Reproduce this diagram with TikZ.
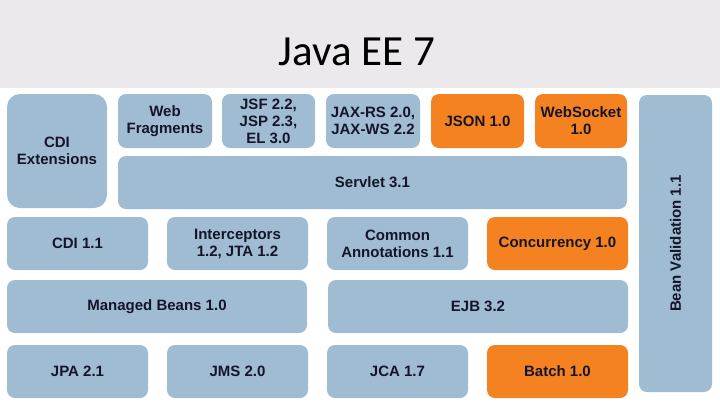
\documentclass[tikz,border=0pt]{standalone}
\usepackage{fontspec}
\setmainfont{Liberation Sans}
\newfontfamily\titlefont{Carlito}
\usepackage{xcolor}
\usetikzlibrary{positioning}
\definecolor{specblue}{HTML}{A0BCD3}
\definecolor{neworange}{HTML}{F58220}
\definecolor{bandgray}{HTML}{EBE9EC}
\definecolor{labelink}{HTML}{15152A}

\begin{document}
\begin{tikzpicture}[x=1pt, y=-1pt,
  blk/.style={fill=specblue, rounded corners=8pt, inner sep=0pt, align=center,
    text=labelink, font=\fontsize{15}{17}\selectfont\bfseries},
  newblk/.style={blk, fill=neworange},
  rowblk/.style={minimum height=53pt}]
\useasboundingbox (0,0) rectangle (720,405);
% title band
\fill[bandgray] (0,0) rectangle (720,88);
\node[font=\titlefont\fontsize{43}{43}\selectfont, anchor=base, text=black] (title) at (357,65) {Java EE 7};
% top row: web tier
\node[blk, rounded corners=13pt, minimum width=100pt, minimum height=114pt] (cdiext) at (57,151) {CDI\\Extensions};
\node[blk, minimum width=94pt, minimum height=54pt] (webfrag) at (165,121) {Web\\Fragments};
\node[blk, minimum width=93pt, minimum height=54pt] (jsf) at (268.5,121) {JSF 2.2,\\JSP 2.3,\\EL 3.0};
\node[blk, minimum width=94pt, minimum height=54pt] (jaxrs) at (373,121) {JAX-RS 2.0,\\JAX-WS 2.2};
\node[newblk, minimum width=93pt, minimum height=54pt] (json) at (477.5,121) {JSON 1.0};
\node[newblk, minimum width=92pt, minimum height=54pt] (websocket) at (581,121) {WebSocket\\1.0};
\node[blk, rowblk, minimum width=509pt] (servlet) at (372.5,182.5) {Servlet 3.1};
% side bar
\node[blk, rotate=90, minimum width=297pt, minimum height=73pt] (beanval) at (675.5,243.5) {Bean Validation 1.1};
% middle rows
\node[blk, rowblk, minimum width=141pt] (cdi) at (77.5,243.5) {CDI 1.1};
\node[blk, rowblk, minimum width=141pt] (intercept) at (237.5,243.5) {Interceptors\\1.2, JTA 1.2};
\node[blk, rowblk, minimum width=141pt] (common) at (397.5,243.5) {Common\\Annotations 1.1};
\node[newblk, rowblk, minimum width=141pt] (concur) at (557.5,243.5) {Concurrency 1.0};
\node[blk, rowblk, minimum width=300pt] (managed) at (157,306.5) {Managed Beans 1.0};
\node[blk, rowblk, minimum width=300pt] (ejb) at (478,306.5) {EJB 3.2};
% bottom row
\foreach \cx/\nm/\txt in {77.5/jpa/JPA 2.1, 237.5/jms/JMS 2.0, 397.5/jca/JCA 1.7}
  \node[blk, rowblk, minimum width=141pt] (\nm) at (\cx,371.5) {\txt};
\node[newblk, rowblk, minimum width=141pt] (batch) at (557.5,371.5) {Batch 1.0};
\end{tikzpicture}
\end{document}
